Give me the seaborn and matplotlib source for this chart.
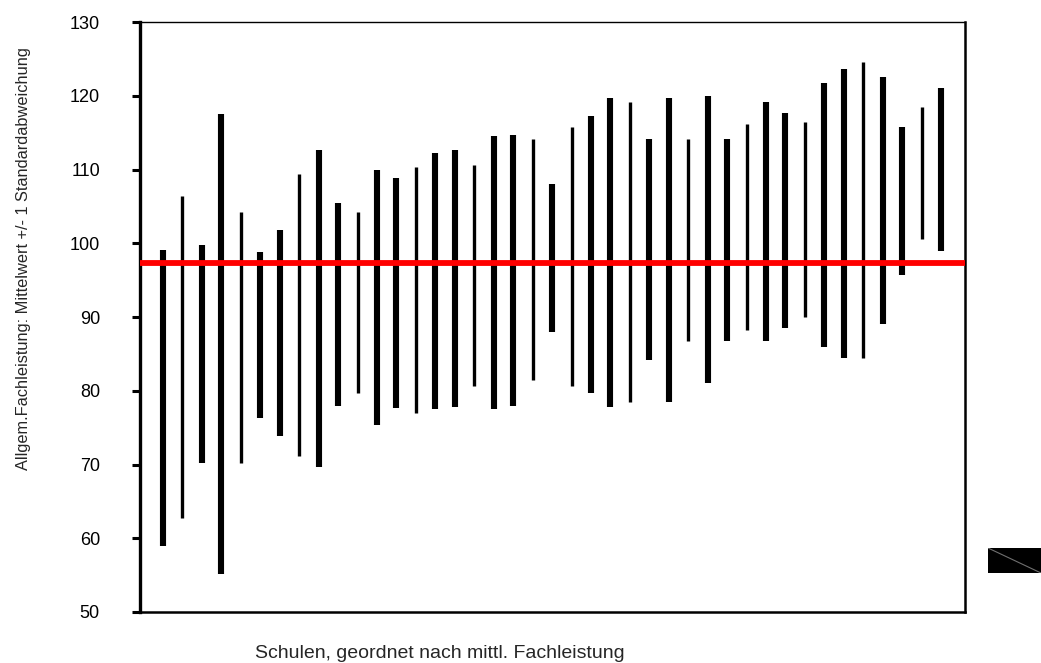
import matplotlib
matplotlib.use("Agg")
import matplotlib.pyplot as plt
import seaborn as sns
import pandas as pd

# School results: mean +/- one standard deviation, schools ordered by mean score
schools = list(range(1, 42))
lower = [58.9, 62.8, 70.2, 55.2, 70.2, 76.3, 73.9, 71.2, 69.7, 78.0,
         79.7, 75.3, 77.6, 77.0, 77.5, 77.8, 80.7, 77.5, 78.0, 81.5,
         87.9, 80.7, 79.7, 77.8, 78.5, 84.2, 78.5, 86.8, 81.0, 86.8,
         88.3, 86.8, 88.5, 90.0, 85.9, 84.4, 84.4, 89.1, 95.7, 100.6,
         98.9]
upper = [99.1, 106.4, 99.8, 117.5, 104.3, 98.8, 101.8, 109.4, 112.6, 105.5,
         104.3, 109.9, 108.9, 110.4, 112.3, 112.6, 110.6, 114.5, 114.7, 114.1,
         108.1, 115.7, 117.2, 119.7, 119.2, 114.1, 119.7, 114.1, 119.9, 114.2,
         116.2, 119.2, 117.7, 116.5, 121.7, 123.6, 124.6, 122.6, 115.7, 118.5,
         121.1]
overall_mean = 97.3
y_ticks = [50, 60, 70, 80, 90, 100, 110, 120, 130]

ylabel = "Allgem.Fachleistung: Mittelwert +/- 1 Standardabweichung"
xlabel = "Schulen, geordnet nach mittl. Fachleistung"

sns.set_style("white")
plt.rcParams["font.family"] = ["Liberation Sans", "DejaVu Sans"]
plt.rcParams["lines.solid_capstyle"] = "butt"

# Long-form table: one low and one high row per school
df = pd.DataFrame({
    "schule": schools * 2,
    "wert": lower + upper,
})
# line weight of each range bar (every third one drawn narrow)
narrow = {2, 5, 8, 11, 14, 17, 20, 22, 25, 28, 31, 34, 37, 40}
df["strich"] = df["schule"].map(lambda s: "schmal" if s in narrow else "breit")

fig = plt.figure(figsize=(10.41, 6.63), dpi=100)
ax = fig.add_axes([139.5 / 1041, 1 - 612 / 663, (965 - 139.5) / 1041, (612 - 22) / 663])

sns.lineplot(data=df, x="schule", y="wert", units="schule", estimator=None,
             size="strich", sizes={"breit": 4.4, "schmal": 2.4},
             color="black", legend=False, ax=ax, sort=False)

ax.axhline(overall_mean, color="#ff0000", lw=4.2, zorder=5)

ax.set_xlim(-0.21, 42.23)
ax.set_ylim(50, 130)
ax.set_yticks(y_ticks)
ax.set_xticks([])
ax.set_xlabel("")
ax.set_ylabel("")
ax.tick_params(axis="y", direction="out", length=5.5, width=2.2, pad=23,
               labelsize=13, colors="black", left=True)
for name, lw in {"left": 2.4, "bottom": 1.8, "right": 1.8, "top": 1.0}.items():
    ax.spines[name].set_visible(True)
    ax.spines[name].set_color("black")
    ax.spines[name].set_linewidth(lw)

fig.text(24 / 1041, 1 - 259 / 663, ylabel, rotation=90, ha="center", va="center",
         fontsize=11.8)
fig.text(440 / 1041, 1 - 654 / 663, xlabel, ha="center", va="center",
         fontsize=14)

# Legend key at the right edge
key = fig.add_axes([988 / 1041, 1 - 573 / 663, 53 / 1041, 25 / 663])
key.set_xlim(0, 1)
key.set_ylim(0, 1)
key.axis("off")
key.add_patch(plt.Rectangle((0, 0), 1, 1, color="black"))
key.plot([0, 1], [1, 0], color="#707070", lw=0.8)

fig.savefig("out.png", dpi=100)
